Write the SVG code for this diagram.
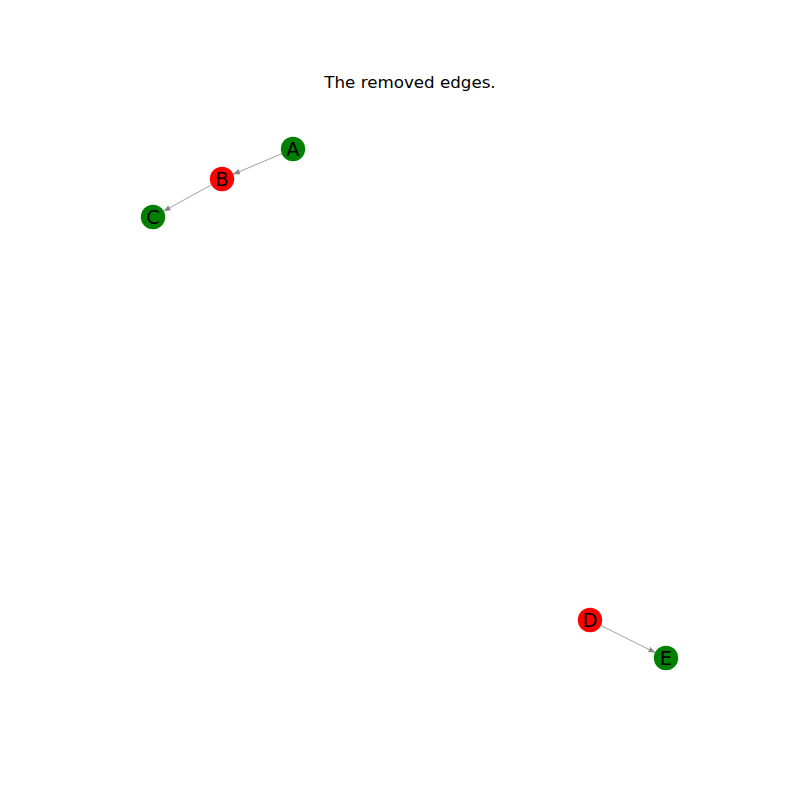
<svg xmlns="http://www.w3.org/2000/svg" width="800" height="800" viewBox="0 0 800 800">
<style>
.edge{stroke:#a0a0a0;stroke-width:1;fill:none}
.node text{font-family:"DejaVu Sans",sans-serif;font-size:19.4px;text-anchor:middle;dominant-baseline:central;fill:#000}
.g{fill:#008000}
.r{fill:#ff0000}
.title{font-family:"DejaVu Sans",sans-serif;font-size:16.7px;text-anchor:middle;fill:#000}
</style>
<defs>
<marker id="arr" viewBox="0 0 10 8" refX="10" refY="4" markerWidth="7" markerHeight="5.6" markerUnits="userSpaceOnUse" orient="auto">
<path d="M0,0 L10,4 L0,8 Z" fill="#888"/>
</marker>
</defs>
<rect width="800" height="800" fill="#fff"/>
<text class="title" x="410" y="88">The removed edges.</text>
<g id="edges">
<line class="edge" x1="282" y1="153.7" x2="233" y2="174.3" marker-end="url(#arr)"/>
<line class="edge" x1="211.5" y1="184.8" x2="163.5" y2="211.2" marker-end="url(#arr)"/>
<line class="edge" x1="600.7" y1="625.4" x2="655.3" y2="652.6" marker-end="url(#arr)"/>
</g>
<g id="A" class="node"><circle class="g" cx="293" cy="149" r="12.2"/><text x="293" y="149">A</text></g>
<g id="B" class="node"><circle class="r" cx="222" cy="179" r="12.2"/><text x="222" y="179">B</text></g>
<g id="C" class="node"><circle class="g" cx="153" cy="217" r="12.2"/><text x="153" y="217">C</text></g>
<g id="D" class="node"><circle class="r" cx="590" cy="620" r="12.2"/><text x="590" y="620">D</text></g>
<g id="E" class="node"><circle class="g" cx="666" cy="658" r="12.2"/><text x="666" y="658">E</text></g>
</svg>
